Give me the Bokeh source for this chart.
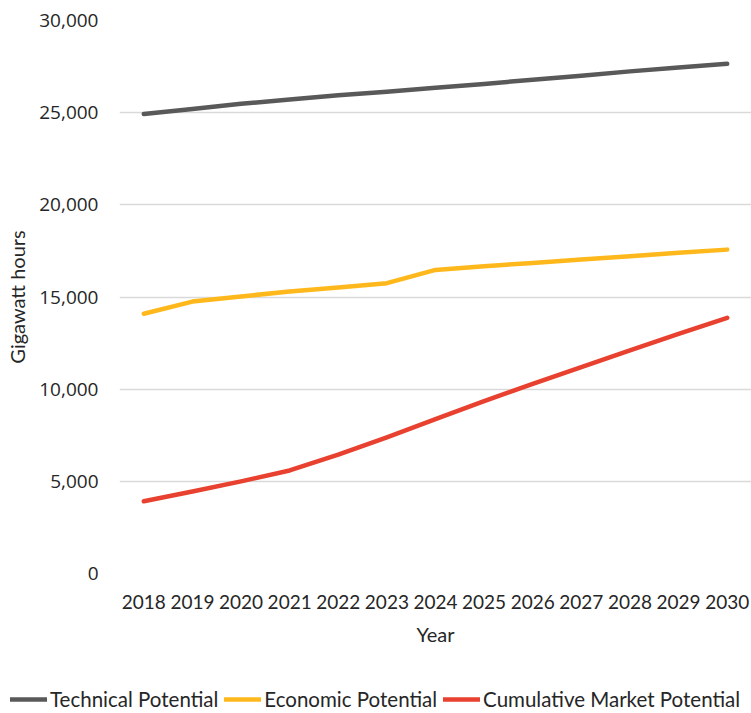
from bokeh.plotting import figure
from bokeh.models import ColumnDataSource, Legend, LegendItem, NumeralTickFormatter, FixedTicker
from bokeh.embed import file_html
from bokeh.resources import INLINE

years = ["2018", "2019", "2020", "2021", "2022", "2023", "2024", "2025", "2026", "2027", "2028", "2029", "2030"]
technical = [24930, 25200, 25480, 25720, 25950, 26130, 26350, 26560, 26790, 27000, 27240, 27450, 27650]
economic = [14090, 14750, 15030, 15300, 15520, 15750, 16470, 16670, 16850, 17030, 17210, 17400, 17570]
cumulative = [3920, 4450, 5000, 5590, 6450, 7390, 8370, 9350, 10290, 11200, 12100, 13000, 13870]
series_names = ["Technical Potential", "Economic Potential", "Cumulative Market Potential"]
colors = ["#595959", "#FFB81C", "#E8412F"]
keys = ["technical", "economic", "cumulative"]

src = ColumnDataSource(dict(year=years, technical=technical, economic=economic, cumulative=cumulative))

p = figure(width=751, height=660, x_range=years, y_range=(0, 30000),
           output_backend="svg", toolbar_location=None,
           min_border_left=119, min_border_right=0, min_border_top=20, min_border_bottom=87)
p.outline_line_color = None
p.background_fill_color = "white"
p.border_fill_color = "white"
p.x_range.range_padding = 0

for key, c in zip(keys, colors):
    p.line("year", key, source=src, line_color=c, line_width=4.5, line_cap="round", line_join="round")

p.yaxis.ticker = FixedTicker(ticks=[0, 5000, 10000, 15000, 20000, 25000, 30000])
p.yaxis.formatter = NumeralTickFormatter(format="0,0")
for ax in (p.xaxis[0], p.yaxis[0]):
    ax.axis_line_color = None
    ax.major_tick_line_color = None
    ax.minor_tick_line_color = None
    ax.major_label_text_color = "#262626"
    ax.axis_label_text_color = "#262626"
    ax.axis_label_text_font_style = "normal"
    ax.axis_label_text_font = "Lato"

p.yaxis.major_label_text_font = "Open Sans"
p.yaxis.major_label_text_font_size = "19px"
p.yaxis.major_label_standoff = 15
p.yaxis.axis_label = "Gigawatt hours"
p.yaxis.axis_label_text_font_size = "20px"
p.yaxis.axis_label_standoff = 7

p.xaxis.major_label_text_font = "Lato"
p.xaxis.major_label_text_font_size = "19px"
p.xaxis.major_label_standoff = 15
p.xaxis.axis_label = "Year"
p.xaxis.axis_label_text_font_size = "20px"
p.xaxis.axis_label_standoff = 10

p.xgrid.grid_line_color = None
p.ygrid.grid_line_color = "#d9d9d9"
p.ygrid.grid_line_width = 1.3

# legend strip below the chart (separate root so its frame starts at the left edge)
lg = figure(width=751, height=53, x_range=years, y_range=(-2, -1),
            x_axis_type=None, y_axis_type=None,
            output_backend="svg", toolbar_location=None,
            min_border_left=0, min_border_right=0, min_border_top=0, min_border_bottom=0)
lg.outline_line_color = None
lg.grid.visible = False
rs = []
for key, c in zip(keys, colors):
    rs.append(lg.line("year", key, source=src, line_color=c, line_width=4.5, line_cap="round"))

items = [LegendItem(label=n, renderers=[r]) for n, r in zip(series_names, rs)]
legend = Legend(items=items, orientation="horizontal", location=(10, 2),
                label_text_font="Lato", label_text_font_size="20.5px", label_text_color="#262626",
                glyph_width=37, glyph_height=24, label_height=24, label_standoff=3, spacing=6,
                padding=0, margin=0, border_line_color=None, background_fill_alpha=0)
lg.add_layout(legend)

open("out.html", "w").write(file_html([p, lg], INLINE))
